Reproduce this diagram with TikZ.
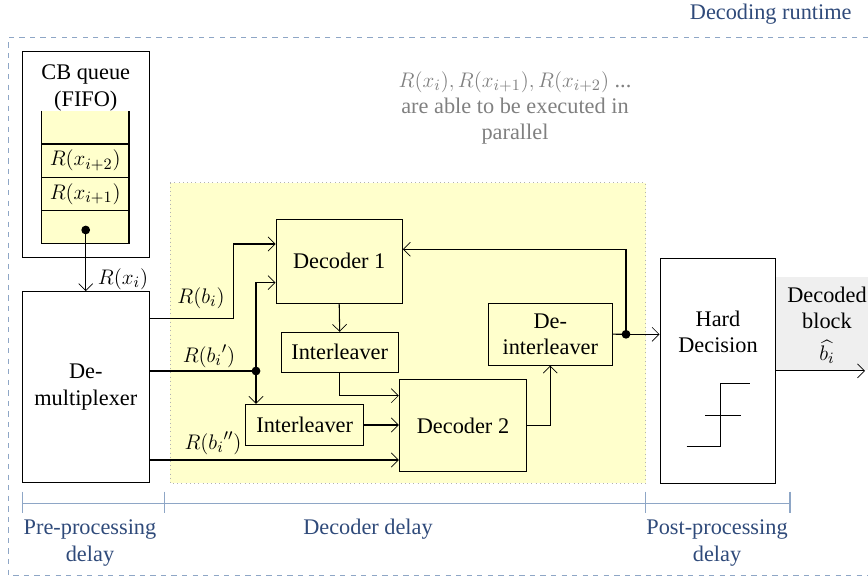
\documentclass[tikz,border=0pt]{standalone}
\usepackage{amsmath}
\usepackage{fontspec}
\setmainfont{Liberation Serif}
\definecolor{RTnavy}{HTML}{2F4A7A}
\definecolor{RTsteel}{HTML}{8EA6C6}
\definecolor{RTyellow}{HTML}{FFFFCC}
\definecolor{RTgray}{HTML}{808080}
\definecolor{RTshade}{HTML}{EFEFEF}
\usetikzlibrary{arrows.meta, calc, positioning}

\begin{document}
\begin{tikzpicture}[x=0.02cm, y=-0.02cm, line width=0.6pt,
      font=\rmfamily\fontsize{12.7}{15}\selectfont,
      blk/.style={draw, fill=RTyellow, inner sep=0pt},
      wbox/.style={draw, fill=white, inner sep=0pt},
      conn/.style={-{Straight Barb[length=4pt, width=8pt, line width=0.4pt]}},
      dim/.style={RTsteel, line width=0.8pt},
      dimtext/.style={RTnavy, align=center}]
   \useasboundingbox (0,0) rectangle (868,577);
   % Runtime frame
   \draw[RTsteel, dashed, line width=0.5pt] (868,37.7) -| (8.3,575) -- (868,575);
   \node[RTnavy, anchor=east] (runtime) at (858,14) {Decoding runtime};
   % Decoder region and output shade
   \draw[fill=RTyellow, draw=gray!60, dotted, line width=0.4pt] (170,182.7) rectangle (645.7,483.3);
   \fill[RTshade] (776,277) rectangle (868,370);
   % CB queue (FIFO)
   \node[wbox, minimum width=2.54cm, minimum height=4.12cm] (cbq) at (85.8,154.7) {};
   \node[align=center] (cbqtext) at (85.8,88) {CB queue\\(FIFO)};
   \fill[RTyellow] (41.3,110.7) rectangle (129,243.3);
   \draw (41.3,110.7) -- (41.3,243.3) -- (129,243.3) -- (129,110.7);
   \foreach \y in {144,177.3,210.7} \draw (41.3,\y) -- (129,\y);
   \node (xi2) at (85.2,160.7) {$R(x_{i+2})$};
   \node (xi1) at (85.2,194) {$R(x_{i+1})$};
   \coordinate (head) at (85.7,230);
   \fill (head) circle (2.5pt);
   % Blocks
   \node[wbox, minimum width=2.54cm, minimum height=3.82cm, align=center] (demux) at (85.8,387.2) {De-\\multiplexer};
   \node[blk, minimum width=2.526cm, minimum height=1.68cm] (dec1) at (339.2,261.3) {Decoder 1};
   \node[blk, minimum width=2.346cm, minimum height=0.794cm] (il1) at (339.7,352.2) {Interleaver};
   \node[blk, minimum width=2.36cm, minimum height=0.828cm] (il2) at (304.7,425) {Interleaver};
   \node[blk, minimum width=2.548cm, minimum height=1.848cm] (dec2) at (463,425.5) {Decoder 2};
   \node[blk, minimum width=2.48cm, minimum height=1.234cm, align=center] (deil) at (550.3,334.2) {De-\\interleaver};
   \node[wbox, minimum width=2.314cm, minimum height=4.5cm] (hard) at (717.9,370.8) {};
   \node[align=center] (hardtext) at (718,332) {Hard\\Decision};
   % Hard decision step
   \draw (686.7,446.7) -- (720.7,446.7) -- (720.7,383.3) -- (750,383.3);
   \draw (705,415.7) -- (741,415.7);
   % Junctions and levels
   \coordinate (yb) at (0,318.3);
   \coordinate (ybpp) at (0,460);
   \coordinate (j1) at (256,371);
   \coordinate (j2) at (626,334.3);
   \coordinate (bout) at (865,370.8);
   % Connectors
   \draw[conn] (head) -- (head |- demux.north);
   \draw[conn] (demux.east |- yb) -- ++(84,0) |- ($(dec1.west)+(0,-17.3)$);
   \draw (demux.east |- j1) -- (j1);
   \fill (j1) circle (2.5pt);
   \draw[conn] (j1) |- ($(dec1.west)+(0,21.4)$);
   \draw[conn] (j1) -- (j1 |- il2.north);
   \draw[conn] (demux.east |- ybpp) -- (dec2.west |- ybpp);
   \draw[conn] (dec1.south) -- (il1.north);
   \draw[conn] (il1.south) |- ($(dec2.west)+(0,-29.8)$);
   \draw[conn] (il2.east) -- (il2.east -| dec2.west);
   \draw[conn] (dec2.east) -| (deil.south);
   \draw (deil.east) -- (j2);
   \fill (j2) circle (2.5pt);
   \draw[conn] (j2) -- (j2 -| hard.west);
   \draw[conn] (j2) |- ($(dec1.east)+(0,-12)$);
   \draw[conn] (hard.east) -- (bout);
   % Labels
   \node (lxi) at (123,279) {$R(x_i)$};
   \node (lb1) at (201,298) {$R(b_i)$};
   \node (lb2) at (209,356) {$R({b_i}')$};
   \node (lb3) at (213,443) {$R({b_i}'')$};
   \node[align=center, inner sep=0pt] (outtext) at (827,308) {Decoded\\block};
   \node[inner sep=0pt] (bhat) at (827,352) {$\widehat{b_i}$};
   \node[RTgray, align=center] (note) at (515,108) {$R(x_i),R(x_{i+1}),R(x_{i+2})$ ...\\are able to be executed in\\parallel};
   % Delays
   \draw[dim] (22.3,503.3) -- (790,503.3);
   \foreach \x in {22.3,164.3,645.7,790} \draw[dim] (\x,491.7) -- (\x,513);
   \node[dimtext] (pre) at (90,543) {Pre-processing\\delay};
   \node[dimtext] (dd) at (368,529) {Decoder delay};
   \node[dimtext] (post) at (717,543) {Post-processing\\delay};
\end{tikzpicture}
\end{document}
